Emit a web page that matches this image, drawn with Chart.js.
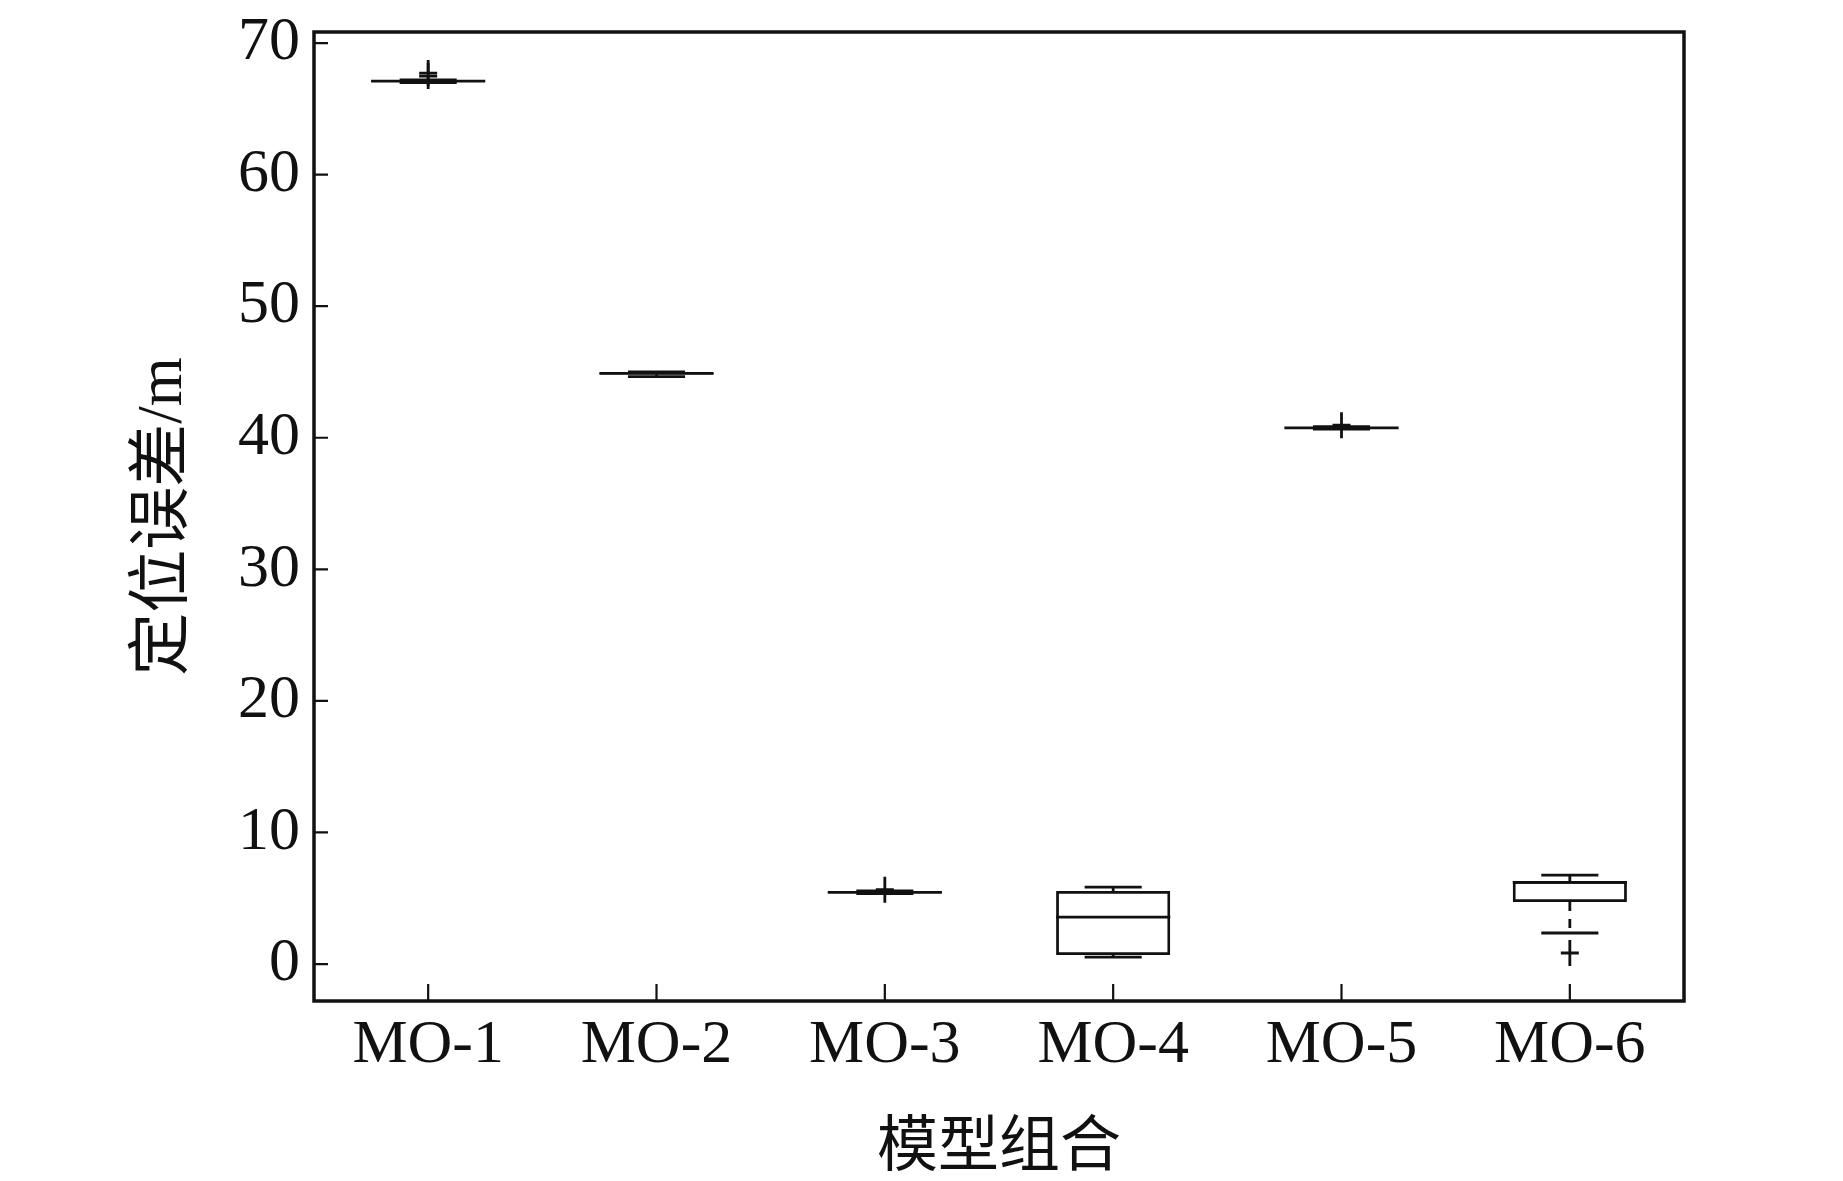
<!DOCTYPE html>
<html lang="zh">
<head>
    <meta charset="UTF-8">
    <title>定位误差箱线图</title>
    <script src="https://cdn.jsdelivr.net/npm/chart.js"></script>
    <style>
        body {
            margin: 0;
            background-color: #ffffff;
        }
        .wrap {
            width: 1843px;
            height: 1181px;
            position: relative;
        }
    </style>
</head>
<body>
    <div class="wrap">
        <canvas id="boxChart"></canvas>
    </div>

    <script>
        // data
        const categories = ['MO-1', 'MO-2', 'MO-3', 'MO-4', 'MO-5', 'MO-6'];
        const q1 = [67.05, 44.8, 5.4, 0.68, 40.7, 4.71];
        const q3 = [67.15, 44.95, 5.5, 5.55, 40.8, 6.31];
        const medians = [67.1, 44.9, 5.45, 3.57, 40.75, 6.2];
        const whiskerLow = [67.0, 44.65, 5.35, 0.53, 40.65, 2.36];
        const whiskerHigh = [67.2, 45.0, 5.55, 5.85, 40.85, 6.76];
        const outliers = [[67.72, 67.49], [], [5.65], [], [40.95], [0.84]];
        const yTicks = [0, 10, 20, 30, 40, 50, 60, 70];

        const ink = '#111111';
        const serif = "'Liberation Serif', 'Noto Sans CJK SC', serif";

        // whiskers, medians, caps and outliers on top of the floating bars
        const boxPlotExtras = {
            id: 'boxPlotExtras',
            afterDatasetsDraw(chart) {
                const ctx = chart.ctx;
                const y = chart.scales.y;
                const meta = chart.getDatasetMeta(0);
                ctx.save();
                ctx.strokeStyle = ink;
                ctx.lineWidth = 2.8;
                meta.data.forEach((bar, i) => {
                    const cx = bar.x;
                    const half = bar.width / 2;
                    const capHalf = bar.width / 4;
                    const yQ1 = y.getPixelForValue(q1[i]);
                    const yQ3 = y.getPixelForValue(q3[i]);
                    const yMed = y.getPixelForValue(medians[i]);
                    const yLo = y.getPixelForValue(whiskerLow[i]);
                    const yHi = y.getPixelForValue(whiskerHigh[i]);

                    // dashed whiskers
                    ctx.setLineDash([9, 8]);
                    ctx.beginPath();
                    ctx.moveTo(cx, yQ3);
                    ctx.lineTo(cx, yHi);
                    ctx.moveTo(cx, yQ1);
                    ctx.lineTo(cx, yLo);
                    ctx.stroke();
                    ctx.setLineDash([]);

                    // caps + median
                    ctx.beginPath();
                    ctx.moveTo(cx - capHalf, yHi);
                    ctx.lineTo(cx + capHalf, yHi);
                    ctx.moveTo(cx - capHalf, yLo);
                    ctx.lineTo(cx + capHalf, yLo);
                    ctx.moveTo(cx - half, yMed);
                    ctx.lineTo(cx + half, yMed);
                    ctx.stroke();

                    // outliers as '+'
                    outliers[i].forEach(v => {
                        const oy = y.getPixelForValue(v);
                        ctx.beginPath();
                        ctx.moveTo(cx - 9, oy);
                        ctx.lineTo(cx + 9, oy);
                        ctx.moveTo(cx, oy - 13);
                        ctx.lineTo(cx, oy + 13);
                        ctx.stroke();
                    });
                });
                ctx.restore();
            }
        };

        // closed frame with inward ticks
        const frameTicks = {
            id: 'frameTicks',
            afterDraw(chart) {
                const {ctx, chartArea: a} = chart;
                const x = chart.scales.x;
                const y = chart.scales.y;
                ctx.save();
                ctx.strokeStyle = ink;
                ctx.lineWidth = 3.5;
                ctx.strokeRect(a.left, a.top, a.right - a.left, a.bottom - a.top);
                ctx.lineWidth = 2.2;
                ctx.beginPath();
                y.ticks.forEach(t => {
                    const py = y.getPixelForValue(t.value);
                    ctx.moveTo(a.left, py);
                    ctx.lineTo(a.left + 14, py);
                });
                x.ticks.forEach((t, i) => {
                    const px = x.getPixelForTick(i);
                    ctx.moveTo(px, a.bottom);
                    ctx.lineTo(px, a.bottom - 17);
                });
                ctx.stroke();
                ctx.restore();
            }
        };

        const ctx = document.getElementById('boxChart').getContext('2d');
        new Chart(ctx, {
            type: 'bar',
            data: {
                labels: categories,
                datasets: [{
                    label: '定位误差',
                    data: categories.map((c, i) => [q1[i], q3[i]]),
                    backgroundColor: 'rgba(0,0,0,0)',
                    borderColor: ink,
                    borderWidth: 2.8,
                    borderSkipped: false,
                    categoryPercentage: 1.0,
                    barPercentage: 0.5
                }]
            },
            options: {
                responsive: true,
                maintainAspectRatio: false,
                animation: false,
                layout: {
                    padding: { left: 0, right: 159, top: 32, bottom: 0 }
                },
                plugins: {
                    legend: { display: false },
                    tooltip: { enabled: false }
                },
                scales: {
                    x: {
                        offset: true,
                        grid: { display: false, drawTicks: false },
                        border: { display: false },
                        ticks: {
                            color: ink,
                            padding: 8,
                            font: { family: serif, size: 62 }
                        },
                        title: {
                            display: true,
                            text: '模型组合',
                            color: ink,
                            padding: { top: 0, bottom: -6 },
                            font: { family: serif, size: 61, lineHeight: 1.2 }
                        },
                        afterFit: s => {
                            s.height = 180;
                            s.paddingLeft = 0;
                            s.paddingRight = 0;
                        }
                    },
                    y: {
                        min: -2.81,
                        max: 70.84,
                        grid: { display: false, drawTicks: false },
                        border: { display: false },
                        afterBuildTicks: s => { s.ticks = yTicks.map(v => ({ value: v })); },
                        ticks: {
                            color: ink,
                            padding: 14,
                            font: { family: serif, size: 62 }
                        },
                        title: {
                            display: true,
                            text: '定位误差/m',
                            color: ink,
                            padding: { top: 127, bottom: 0 },
                            font: { family: serif, size: 63, lineHeight: 1.2 }
                        },
                        afterFit: s => {
                            s.width = 314;
                            s.paddingTop = 0;
                            s.paddingBottom = 0;
                        }
                    }
                }
            },
            plugins: [boxPlotExtras, frameTicks]
        });
    </script>
</body>
</html>
